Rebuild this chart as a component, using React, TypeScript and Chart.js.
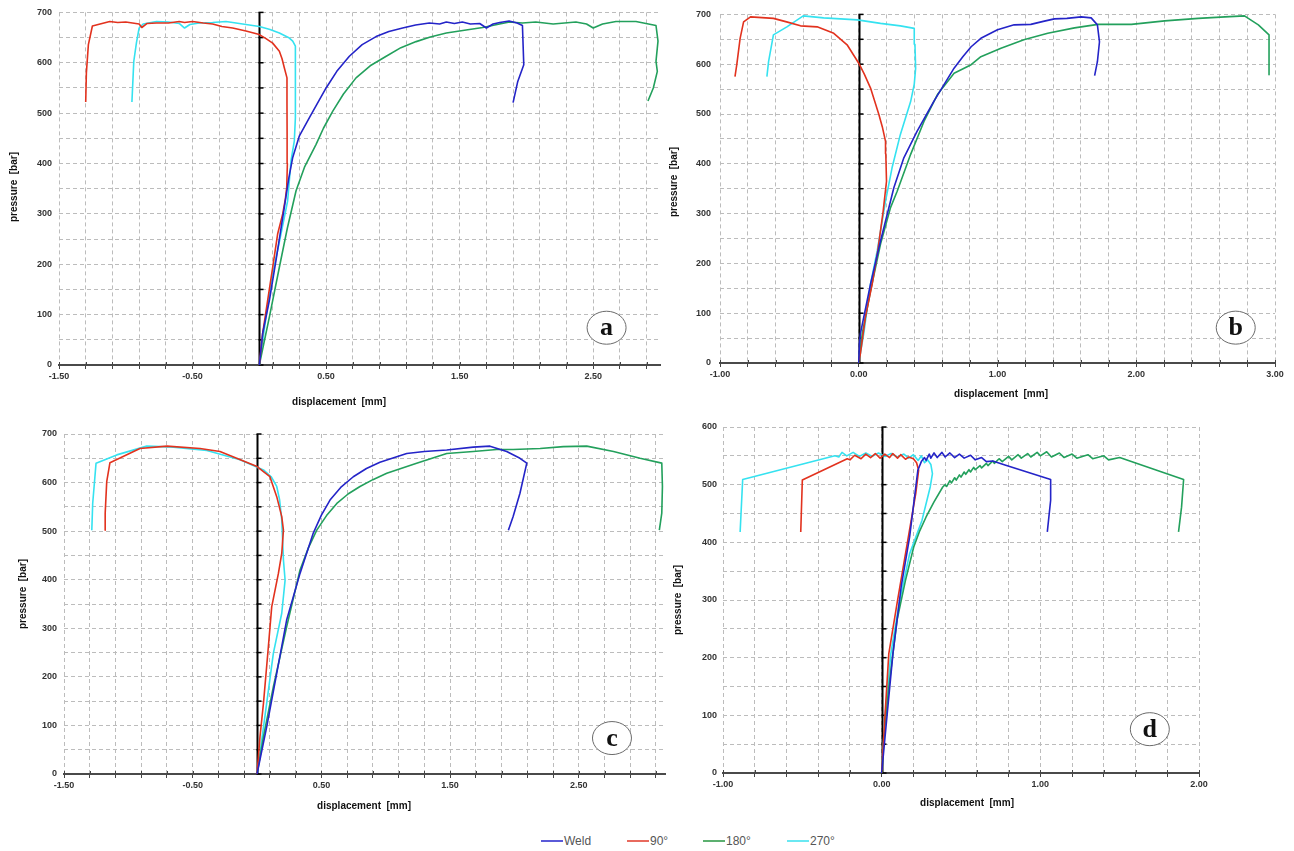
import React, { useEffect, useRef } from 'react';
import { Chart, registerables } from 'chart.js';

Chart.register(...registerables);

type P = [number, number][];

// ---------- series names / colours ----------
const SERIES_NAMES = ['Weld', '90°', '180°', '270°'];
const SERIES_COLORS = ['#2424c8', '#e2321e', '#23a05c', '#35e2f0'];
const LEGEND_COLORS = ['#5a5ad8', '#e86a5e', '#5cb070', '#6ae8f2'];

// ---------- panel a ----------
const weldA: P = [[0,0],[0.025,63],[0.075,128],[0.125,208],[0.187,313],[0.22,370],[0.25,412],[0.30,455],[0.375,491],[0.44,522],[0.5,550],[0.58,583],[0.674,613],[0.77,636],[0.874,652],[0.97,662],[1.073,669],[1.17,675],[1.273,679],[1.35,677],[1.40,681],[1.46,678],[1.52,681],[1.58,677],[1.65,678],[1.70,669],[1.75,677],[1.80,680],[1.87,683],[1.93,679],[1.97,674],[1.98,596],[1.935,563],[1.90,521]];
const deg90A: P = [[0,0],[0.025,63],[0.062,128],[0.10,194],[0.137,260],[0.175,300],[0.195,330],[0.205,352],[0.21,400],[0.208,458],[0.207,520],[0.207,570],[0.187,590],[0.17,608],[0.15,623],[0.10,639],[0.05,648],[0.0,656],[-0.1,663],[-0.2,669],[-0.28,672],[-0.35,677],[-0.42,679],[-0.5,682],[-0.56,680],[-0.6,682],[-0.68,679],[-0.77,679],[-0.84,678],[-0.88,670],[-0.9,677],[-0.95,679],[-1.0,681],[-1.06,680],[-1.12,682],[-1.25,673],[-1.28,636],[-1.295,580],[-1.30,522]];
const deg180A: P = [[0,0],[0.075,95],[0.15,194],[0.21,272],[0.275,346],[0.34,394],[0.425,438],[0.48,470],[0.55,504],[0.63,538],[0.724,570],[0.83,594],[0.95,613],[1.06,630],[1.174,642],[1.28,651],[1.40,659],[1.573,666],[1.673,670],[1.78,676],[1.873,681],[1.97,679],[2.07,681],[2.2,677],[2.37,681],[2.45,677],[2.50,669],[2.57,677],[2.67,682],[2.82,682],[2.97,674],[2.985,643],[2.97,603],[2.98,583],[2.95,550],[2.91,524]];
const deg270A: P = [[0,0],[0.05,95],[0.10,181],[0.162,260],[0.212,326],[0.237,405],[0.262,445],[0.27,491],[0.27,560],[0.27,633],[0.25,643],[0.225,649],[0.15,659],[0.08,666],[0,672],[-0.1,676],[-0.25,682],[-0.35,680],[-0.45,679],[-0.52,676],[-0.56,669],[-0.60,678],[-0.68,681],[-0.77,682],[-0.87,677],[-0.90,669],[-0.92,640],[-0.94,603],[-0.954,522]];

// ---------- panel b ----------
const weldB: P = [[0,0],[0.005,40],[0.012,59],[0.085,159],[0.157,245],[0.253,352],[0.325,412],[0.42,465],[0.54,525],[0.687,592],[0.75,615],[0.81,635],[0.88,652],[1.0,669],[1.12,679],[1.24,680],[1.33,686],[1.41,691],[1.50,692],[1.603,695],[1.675,693],[1.72,679],[1.735,645],[1.72,605],[1.70,577]];
const deg90B: P = [[0,0],[0.012,19],[0.048,92],[0.097,159],[0.137,225],[0.176,305],[0.20,365],[0.195,420],[0.193,445],[0.17,474],[0.145,499],[0.085,552],[0.04,580],[0,602],[-0.084,639],[-0.18,662],[-0.30,675],[-0.42,677],[-0.52,685],[-0.615,692],[-0.78,695],[-0.83,685],[-0.855,652],[-0.879,599],[-0.892,575]];
const deg180B: P = [[0,0],[0.025,59],[0.085,145],[0.157,239],[0.229,312],[0.277,345],[0.374,419],[0.47,485],[0.567,539],[0.687,582],[0.81,599],[0.88,615],[1.025,632],[1.19,649],[1.362,662],[1.555,673],[1.724,680],[1.965,680],[2.205,687],[2.447,692],[2.64,695],[2.78,697],[2.88,679],[2.957,659],[2.957,579]];
const deg270B: P = [[0,0],[0.036,59],[0.085,159],[0.133,225],[0.193,325],[0.24,392],[0.30,459],[0.374,525],[0.40,560],[0.41,592],[0.405,640],[0.40,672],[0.30,677],[0.157,682],[-0.01,689],[-0.253,693],[-0.40,697],[-0.518,675],[-0.615,659],[-0.65,605],[-0.662,575]];

// ---------- panel c ----------
const weldC: P = [[0,0],[0.075,97],[0.153,207],[0.23,317],[0.334,413],[0.437,496],[0.50,533],[0.567,564],[0.65,590],[0.748,612],[0.85,629],[0.955,642],[1.163,660],[1.3,664],[1.474,667],[1.68,673],[1.81,675],[1.94,664],[2.043,650],[2.096,640],[2.043,578],[1.99,530],[1.953,502]];
const deg90C: P = [[0,0],[0.023,77],[0.05,146],[0.088,262],[0.114,344],[0.166,413],[0.192,454],[0.205,502],[0.192,530],[0.153,571],[0.10,612],[0,633],[-0.158,650],[-0.288,664],[-0.443,670],[-0.70,675],[-0.91,670],[-1.143,641],[-1.168,602],[-1.18,537],[-1.18,502]];
const deg180C: P = [[0,0],[0.05,77],[0.127,180],[0.23,303],[0.334,420],[0.40,466],[0.464,502],[0.54,532],[0.62,557],[0.71,577],[0.80,592],[0.90,606],[1.008,619],[1.24,640],[1.474,660],[1.68,664],[1.863,668],[1.99,668],[2.2,670],[2.38,674],[2.562,675],[2.77,664],[2.976,650],[3.145,640],[3.15,592],[3.145,537],[3.126,502]];
const deg270C: P = [[0,0],[0.023,43],[0.075,146],[0.127,249],[0.192,331],[0.218,399],[0.205,441],[0.192,523],[0.175,565],[0.153,592],[0.11,612],[0.05,626],[-0.132,647],[-0.39,666],[-0.65,673],[-0.857,675],[-1.09,657],[-1.251,640],[-1.277,557],[-1.284,502]];

// ---------- panel d ----------
const weldD: P = [[0,0],[0.031,91],[0.071,207],[0.123,323],[0.176,409],[0.228,525],[0.25,540],[0.27,547],[0.28,542],[0.30,553],[0.31,546],[0.33,555],[0.35,547],[0.38,556],[0.40,548],[0.43,555],[0.46,547],[0.49,553],[0.52,546],[0.56,551],[0.59,543],[0.63,547],[0.66,540],[0.70,541],[0.777,534],[1.065,509],[1.065,473],[1.044,418]];
const deg90D: P = [[0,0],[0.019,91],[0.045,207],[0.097,294],[0.15,380],[0.215,485],[0.233,525],[0.22,538],[0.20,545],[0.17,548],[0.15,544],[0.12,552],[0.10,546],[0.07,554],[0.05,547],[0.02,553],[-0.01,546],[-0.04,554],[-0.07,547],[-0.10,553],[-0.13,545],[-0.17,551],[-0.20,543],[-0.217,545],[-0.50,508],[-0.51,418]];
const deg180D: P = [[0,0],[0.02,80],[0.045,149],[0.097,265],[0.15,334],[0.202,392],[0.24,420],[0.28,444],[0.33,470],[0.385,496],[0.40,500],[0.41,497],[0.43,507],[0.44,503],[0.46,512],[0.47,508],[0.49,517],[0.50,513],[0.52,522],[0.53,518],[0.55,526],[0.56,522],[0.58,530],[0.59,526],[0.62,533],[0.63,529],[0.66,537],[0.67,533],[0.70,541],[0.71,537],[0.74,545],[0.76,540],[0.80,549],[0.82,543],[0.86,552],[0.88,546],[0.92,554],[0.94,548],[0.98,556],[1.0,550],[1.04,557],[1.07,548],[1.12,555],[1.15,547],[1.20,553],[1.23,546],[1.30,552],[1.33,545],[1.40,550],[1.43,543],[1.50,547],[1.903,509],[1.89,461],[1.871,418]];
const deg270D: P = [[0,0],[0.019,91],[0.058,207],[0.11,294],[0.176,380],[0.254,438],[0.306,496],[0.32,519],[0.31,535],[0.29,543],[0.27,538],[0.25,550],[0.23,542],[0.20,552],[0.17,546],[0.14,553],[0.10,548],[0.06,554],[0.02,549],[-0.02,555],[-0.06,549],[-0.10,555],[-0.14,549],[-0.18,556],[-0.22,550],[-0.25,556],[-0.27,548],[-0.295,550],[-0.876,509],[-0.892,418]];

// ---------- axis / label texts ----------
const X_TITLE = 'displacement  [mm]';
const Y_TITLE = 'pressure  [bar]';
const X_STEP = 0.2;
const Y_STEP = 50;

interface PanelCfg {
  id: string;
  letter: string;
  letterAt: [number, number];
  series: P[];
  xMin: number; xMax: number; yMax: number;
  rect: { left: number; top: number; w: number; h: number };
  yw: number; pt: number; pr: number; xh: number; ypad: number;
  xTitleAt: [number, number];
  yTitleAt: [number, number];
}

const PANELS: PanelCfg[] = [
  { id: 'a', letter: 'a', letterAt: [2.6, 74], series: [weldA, deg90A, deg180A, deg270A],
    xMin: -1.5, xMax: 3.0, yMax: 700, rect: { left: 0, top: 0, w: 680, h: 415 },
    yw: 59, pt: 11, pr: 20, xh: 50, ypad: 7, xTitleAt: [339, 402], yTitleAt: [14, 187] },
  { id: 'b', letter: 'b', letterAt: [2.717, 71], series: [weldB, deg90B, deg180B, deg270B],
    xMin: -1.0, xMax: 3.0, yMax: 700, rect: { left: 650, top: 0, w: 644, h: 415 },
    yw: 70, pt: 12, pr: 19, xh: 52, ypad: 9, xTitleAt: [1001, 394], yTitleAt: [674, 182] },
  { id: 'c', letter: 'c', letterAt: [2.758, 74], series: [weldC, deg90C, deg180C, deg270C],
    xMin: -1.5, xMax: 3.17, yMax: 700, rect: { left: 0, top: 420, w: 690, h: 410 },
    yw: 64, pt: 14, pr: 25, xh: 56, ypad: 7, xTitleAt: [364, 806], yTitleAt: [23, 594] },
  { id: 'd', letter: 'd', letterAt: [1.69, 76], series: [weldD, deg90D, deg180D, deg270D],
    xMin: -1.0, xMax: 2.0, yMax: 600, rect: { left: 650, top: 415, w: 600, h: 415 },
    yw: 73, pt: 12, pr: 51, xh: 57, ypad: 6, xTitleAt: [967, 803], yTitleAt: [678, 600] },
];

const FONT = '"Liberation Sans", Arial, sans-serif';

const zeroAxisPlugin = {
  id: 'zeroAxis',
  beforeDatasetsDraw(chart: any) {
    const { ctx, scales } = chart;
    const x = scales.x, y = scales.y;
    const px = Math.round(x.getPixelForValue(0)) + 0.5;
    const top = y.getPixelForValue(y.max);
    const bot = y.getPixelForValue(0);
    ctx.save();
    ctx.strokeStyle = '#000';
    ctx.lineWidth = 2;
    ctx.beginPath();
    ctx.moveTo(px, top);
    ctx.lineTo(px, bot);
    ctx.stroke();
    ctx.lineWidth = 1.5;
    for (let v = 0; v <= y.max; v += Y_STEP) {
      const py = y.getPixelForValue(v);
      ctx.beginPath();
      ctx.moveTo(px - 1, py);
      ctx.lineTo(px + 4, py);
      ctx.stroke();
    }
    ctx.restore();
  },
};

const decorPlugin = {
  id: 'decor',
  afterDraw(chart: any, _args: any, opts: any) {
    const { ctx, scales } = chart;
    ctx.save();
    // upward halves of the bottom-axis tick marks
    const xs = scales.x;
    const yb = scales.y.getPixelForValue(0);
    ctx.strokeStyle = '#444';
    ctx.lineWidth = 1;
    for (const t of xs.ticks) {
      const px = Math.round(xs.getPixelForValue(t.value)) + 0.5;
      ctx.beginPath();
      ctx.moveTo(px, yb);
      ctx.lineTo(px, yb - 3);
      ctx.stroke();
    }
    // circled panel letter
    const cx = scales.x.getPixelForValue(opts.letterAt[0]);
    const cy = scales.y.getPixelForValue(opts.letterAt[1]);
    ctx.beginPath();
    ctx.ellipse(cx, cy, 19.5, 16.5, 0, 0, Math.PI * 2);
    ctx.fillStyle = '#fff';
    ctx.fill();
    ctx.strokeStyle = '#6a6a6a';
    ctx.lineWidth = 1;
    ctx.stroke();
    ctx.fillStyle = '#111';
    ctx.font = 'bold 26px "Liberation Serif", "Times New Roman", serif';
    ctx.textAlign = 'center';
    ctx.textBaseline = 'alphabetic';
    ctx.fillText(opts.letter, cx, cy + 7.5);
    // axis titles
    ctx.font = 'bold 10px ' + FONT;
    ctx.fillStyle = '#111';
    ctx.textBaseline = 'middle';
    ctx.fillText(opts.xTitle, opts.xTitleAt[0], opts.xTitleAt[1]);
    ctx.translate(opts.yTitleAt[0], opts.yTitleAt[1]);
    ctx.rotate(-Math.PI / 2);
    ctx.fillText(opts.yTitle, 0, 0);
    ctx.restore();
  },
};

function Panel({ p }: { p: PanelCfg }) {
  const ref = useRef<HTMLCanvasElement>(null);
  useEffect(() => {
    if (!ref.current) return;
    const datasets = p.series.map((s, i) => ({
      label: SERIES_NAMES[i],
      data: s.map(([x, y]) => ({ x, y })),
      borderColor: SERIES_COLORS[i],
      backgroundColor: SERIES_COLORS[i],
      borderWidth: 1.6,
      pointRadius: 0,
      showLine: true,
      tension: 0,
      borderJoinStyle: 'round' as const,
    }));
    const tickFont = { family: FONT, size: 9, weight: 'bold' as const };
    const chart = new Chart(ref.current, {
      type: 'scatter',
      data: { datasets },
      plugins: [zeroAxisPlugin, decorPlugin],
      options: {
        animation: false,
        responsive: false,
        devicePixelRatio: 1,
        layout: { padding: { top: p.pt, right: p.pr, left: 0, bottom: 0 } },
        plugins: {
          legend: { display: false },
          tooltip: { enabled: false },
          decor: {
            letter: p.letter,
            letterAt: p.letterAt,
            xTitle: X_TITLE,
            yTitle: Y_TITLE,
            xTitleAt: [p.xTitleAt[0] - p.rect.left, p.xTitleAt[1] - p.rect.top],
            yTitleAt: [p.yTitleAt[0] - p.rect.left, p.yTitleAt[1] - p.rect.top],
          },
        } as any,
        scales: {
          x: {
            type: 'linear',
            min: p.xMin,
            max: p.xMax,
            afterBuildTicks: (s: any) => {
              const t: any[] = [];
              for (let k = 0; ; k++) {
                const v = Math.round((p.xMin + X_STEP * k) * 1000) / 1000;
                if (v > p.xMax + 1e-9) break;
                t.push({ value: v });
              }
              s.ticks = t;
            },
            afterFit: (s: any) => { s.height = p.xh; },
            ticks: {
              autoSkip: false,
              maxRotation: 0,
              minRotation: 0,
              padding: 2,
              color: '#333',
              font: tickFont,
              callback: (v: any) => {
                const k = Math.round((Number(v) - p.xMin) / X_STEP);
                return k % 5 === 0 ? Number(v).toFixed(2) : '';
              },
            },
            grid: {
              color: '#bcbcbc',
              lineWidth: 1,
              drawTicks: true,
              tickLength: 4,
              tickColor: '#444',
              tickWidth: 1,
              tickBorderDash: [],
            },
            border: { display: true, color: '#4a4a4a', width: 2, dash: [4, 3] },
          },
          y: {
            type: 'linear',
            min: 0,
            max: p.yMax,
            afterBuildTicks: (s: any) => {
              const t: any[] = [];
              for (let v = 0; v <= p.yMax; v += Y_STEP) t.push({ value: v });
              s.ticks = t;
            },
            afterFit: (s: any) => { s.width = p.yw; },
            ticks: {
              autoSkip: false,
              padding: p.ypad,
              color: '#333',
              font: tickFont,
              callback: (v: any) => (Number(v) % 100 === 0 ? String(v) : ''),
            },
            grid: { color: '#bcbcbc', lineWidth: 1, drawTicks: false },
            border: { display: false, dash: [4, 3] },
          },
        },
      } as any,
    });
    return () => chart.destroy();
  }, [p]);
  return (
    <canvas
      ref={ref}
      width={p.rect.w}
      height={p.rect.h}
      style={{ position: 'absolute', left: p.rect.left, top: p.rect.top, width: p.rect.w, height: p.rect.h }}
    />
  );
}

const LEGEND_LEFTS = [541, 627, 703, 787];

function Legend() {
  return (
    <>
      {SERIES_NAMES.map((n, i) => (
        <div
          key={n}
          style={{
            position: 'absolute',
            left: LEGEND_LEFTS[i],
            top: 832,
            height: 18,
            display: 'flex',
            alignItems: 'center',
            fontFamily: FONT,
            fontSize: 12,
            color: '#555',
            whiteSpace: 'nowrap',
          }}
        >
          <span style={{ display: 'inline-block', width: 22, height: 2, background: LEGEND_COLORS[i], marginRight: 1 }} />
          <span>{n}</span>
        </div>
      ))}
    </>
  );
}

export default function App() {
  return (
    <div style={{ position: 'absolute', left: 0, top: 0, width: 1294, height: 851, background: '#fff', overflow: 'hidden' }}>
      {PANELS.map((p) => (
        <Panel key={p.id} p={p} />
      ))}
      <Legend />
    </div>
  );
}
